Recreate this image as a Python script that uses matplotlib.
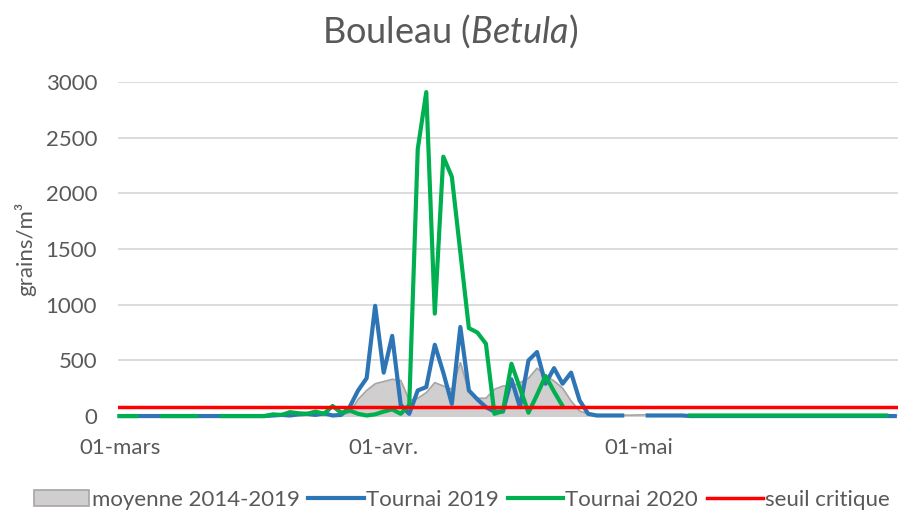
import numpy as np
import matplotlib.pyplot as plt
from matplotlib.patches import Patch
from matplotlib.lines import Line2D

nan = np.nan

# 01-mars .. 31-mai, one value per day
tick_pos = [0, 31, 61]
tick_labels = ['01-mars', '01-avr.', '01-mai']

moyenne_2014_2019 = [
    0, 0, 0, 0, 0, 0, 0, 0, 0, 0,
    0, 0, 0, 0, 0, 0, 0, 0, 0, 0,
    0, 2, 3, 5, 5, 8, 10, 30, 150, 230,
    290, 310, 330, 320, 140, 160, 210, 300, 270, 240,
    480, 220, 160, 160, 240, 270, 270, 300, 340, 430,
    360, 315, 250, 135, 45, 20, 12, 10, 10, 8,
    8, 10, 12, 10, 8, 6, 5, 5, 5, 5,
    5, 5, 5, 5, 5, 5, 5, 5, 5, 5,
    5, 5, 5, 5, 5, 5, 5, 5, 5, 5,
    5, 5,
]

tournai_2019 = [
    0, 0, 0, 0, 0, 0, 0, 0, 0, 0,
    0, 0, 0, 0, 0, 0, 0, 0, 5, 10,
    5, 15, 20, 10, 25, 5, 10, 80, 230, 340,
    990, 390, 720, 100, 20, 230, 260, 640, 390, 110,
    800, 230, 150, 80, 40, 40, 330, 80, 500, 575,
    290, 430, 290, 390, 140, 20, 5, 5, 5, 5,
    nan, nan, 5, 5, 5, 5, 5, 0, 0, 0,
    0, 0, 0, 0, 0, 0, 0, 0, 0, 0,
    0, 0, 0, 0, 0, 0, 0, 0, 0, 0,
    0, 0,
]

tournai_2020 = [
    0, 0, 0, nan, nan, 0, 0, 0, 0, 0,
    nan, nan, 0, 0, 0, 0, 0, 0, 15, 10,
    35, 25, 20, 40, 20, 90, 30, 50, 20, 5,
    15, 40, 60, 20, 100, 2400, 2910, 920, 2330, 2150,
    1470, 790, 750, 650, 20, 45, 470, 250, 30, 190,
    360, 220, 90, nan, nan, nan, nan, nan, nan, nan,
    nan, nan, nan, nan, nan, nan, nan, 5, 5, 5,
    5, 5, 5, 5, 5, 5, 5, 5, 5, 5,
    5, 5, 5, 5, 5, 5, 5, 5, 5, 5,
    5, nan,
]

seuil_critique = 80

plt.rcParams['font.family'] = ['Lato', 'DejaVu Sans']
plt.rcParams['mathtext.fontset'] = 'custom'
plt.rcParams['mathtext.rm'] = 'Lato'
plt.rcParams['mathtext.it'] = 'Lato:italic'

txt = '#595959'
fig = plt.figure(figsize=(9, 5.13), dpi=100)
ax = fig.add_axes([0.131, 0.189, 0.867, 0.651])

days = np.arange(len(moyenne_2014_2019))

ax.fill_between(days, moyenne_2014_2019, color='#d0cece', zorder=1)
ax.plot(days, moyenne_2014_2019, color='#a6a6a6', lw=1.2, zorder=1.2)
ax.plot(days, tournai_2019, color='#2e75b6', lw=3, zorder=3,
        clip_on=False, solid_joinstyle='round')
ax.plot(days, tournai_2020, color='#00b050', lw=3, zorder=4,
        clip_on=False, solid_joinstyle='round')
ax.axhline(seuil_critique, color='#ff0000', lw=2.5, zorder=5)

ax.set_xlim(-0.2, 91.4)
ax.set_ylim(0, 3000)
ax.set_yticks(range(0, 3001, 500))
ax.set_xticks(tick_pos)
ax.set_xticklabels(tick_labels)
ax.tick_params(axis='both', length=0, labelsize=16, labelcolor=txt)
ax.tick_params(axis='y', pad=15)
ax.tick_params(axis='x', pad=16)
ax.grid(axis='y', color='#d9d9d9', lw=1.3, zorder=0)
ax.set_axisbelow(True)
for s in ax.spines.values():
    s.set_visible(False)

ax.set_ylabel('grains/m³', fontsize=16, color=txt)
ax.yaxis.set_label_coords(-0.104, 0.5)

fig.text(0.5, 1 - 31 / 513, r'Bouleau ($\it{Betula}$)', ha='center', va='center',
         fontsize=26, color=txt)

handles = [
    Patch(facecolor='#d0cece', edgecolor='#a6a6a6', lw=1.2),
    Line2D([], [], color='#2e75b6', lw=3),
    Line2D([], [], color='#00b050', lw=3),
    Line2D([], [], color='#ff0000', lw=2.5),
]
labels = ['moyenne 2014-2019', 'Tournai 2019', 'Tournai 2020', 'seuil critique']
fig.legend(handles, labels, loc='center', bbox_to_anchor=(0.513, 0.026), ncol=4,
           frameon=False, fontsize=16, handlelength=2.5, handletextpad=0.1,
           columnspacing=0.4, labelcolor=txt, borderaxespad=0, borderpad=0)

fig.savefig('out.png', dpi=100)
